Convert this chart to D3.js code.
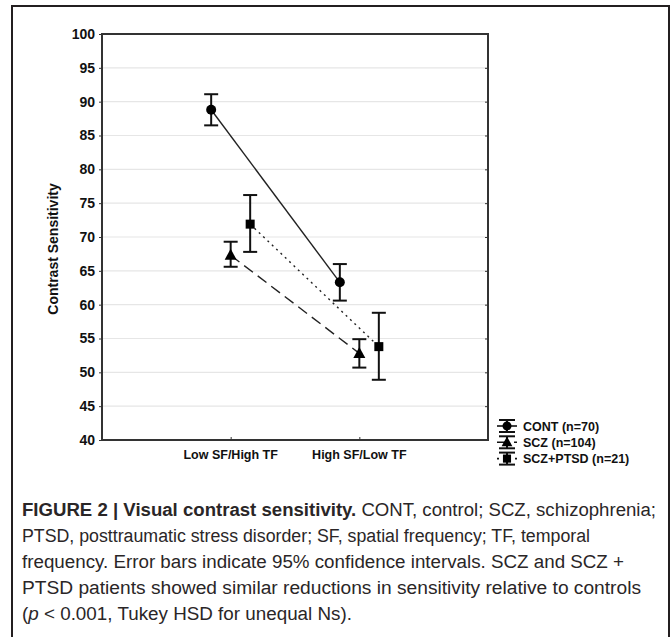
<!DOCTYPE html>
<html>
<head>
<meta charset="utf-8">
<script src="https://cdn.jsdelivr.net/npm/d3@7"></script>
<style>
  body { margin: 0; background: #fff; }
  svg { display: block; }
</style>
</head>
<body>
<svg id="chart"></svg>
<script>
// data
var categories = ["Low SF/High TF", "High SF/Low TF"];
var groups = ["CONT (n=70)", "SCZ (n=104)", "SCZ+PTSD (n=21)"];
var contMean = [88.8, 63.3], contLow = [86.5, 60.6], contHigh = [91.1, 66.0];
var sczMean = [67.3, 52.8], sczLow = [65.6, 50.7], sczHigh = [69.3, 54.9];
var ptsdMean = [71.9, 53.8], ptsdLow = [67.8, 48.9], ptsdHigh = [76.2, 58.8];
var yTicks = [40, 45, 50, 55, 60, 65, 70, 75, 80, 85, 90, 95, 100];
var caption = [
  [["b", "FIGURE 2 | Visual contrast sensitivity."], ["", " CONT, control; SCZ, schizophrenia;"]],
  [["", "PTSD, posttraumatic stress disorder; SF, spatial frequency; TF, temporal"]],
  [["", "frequency. Error bars indicate 95% confidence intervals. SCZ and SCZ +"]],
  [["", "PTSD patients showed similar reductions in sensitivity relative to controls"]],
  [["", "("], ["i", "p"], ["", " < 0.001, Tukey HSD for unequal Ns)."]]
];
// rendered width of each caption line (the original uses a condensed face)
var captionWidths = [634, 568, 602, 619, 330];

var W = 671, H = 637;
var margin = {top: 34, left: 102};
var width = 386, height = 406;
var font = "Liberation Sans, Arial, sans-serif";

var series = [
  {name: groups[0], mean: contMean, lo: contLow, hi: contHigh, shift: -19.5, dash: null, shape: "circle"},
  {name: groups[1], mean: sczMean, lo: sczLow, hi: sczHigh, shift: 0, dash: "11,6", shape: "triangle"},
  {name: groups[2], mean: ptsdMean, lo: ptsdLow, hi: ptsdHigh, shift: 19.5, dash: "2,4", shape: "square"}
];

var svg = d3.select("#chart").attr("width", W).attr("height", H);

// outer frame
svg.append("rect")
  .attr("x", 12).attr("y", 6)
  .attr("width", 657).attr("height", 645)
  .attr("fill", "none").attr("stroke", "#231f20").attr("stroke-width", 2);

var g = svg.append("g")
  .attr("transform", "translate(" + margin.left + "," + margin.top + ")");

var x = d3.scalePoint().domain(categories).range([0, width]).padding(1);
var y = d3.scaleLinear().domain([40, 100]).range([height, 0]);

// grid
g.append("g").selectAll("line")
  .data(yTicks.filter(function (d) { return d > 40 && d < 100; }))
  .enter().append("line")
    .attr("x1", 0).attr("x2", width)
    .attr("y1", function (d) { return y(d); })
    .attr("y2", function (d) { return y(d); })
    .attr("stroke", "#e6e6e6").attr("stroke-width", 1.2);

// axes
var yAxis = g.append("g")
  .call(d3.axisLeft(y).tickValues(yTicks).tickSize(3).tickPadding(4));
yAxis.select(".domain").remove();
yAxis.selectAll(".tick line").attr("stroke", "#333");
yAxis.selectAll(".tick text")
  .attr("font-family", font)
  .attr("font-size", 14).attr("font-weight", "bold").attr("fill", "#111");

var yRight = g.append("g")
  .attr("transform", "translate(" + width + ",0)")
  .call(d3.axisLeft(y).tickValues(yTicks).tickSize(3).tickFormat(""));
yRight.select(".domain").remove();
yRight.selectAll(".tick line").attr("stroke", "#333");

var xAxis = g.append("g")
  .attr("transform", "translate(0," + height + ")")
  .call(d3.axisTop(x).tickSize(3).tickFormat(""));
xAxis.select(".domain").remove();
xAxis.selectAll(".tick line").attr("stroke", "#333");

g.append("g").selectAll("text")
  .data(categories)
  .enter().append("text")
    .attr("x", function (d) { return x(d); })
    .attr("y", height + 19)
    .attr("text-anchor", "middle")
    .attr("font-family", font)
    .attr("font-size", 12.5).attr("font-weight", "bold").attr("fill", "#111")
    .text(function (d) { return d; });

g.append("rect")
  .attr("width", width).attr("height", height)
  .attr("fill", "none").attr("stroke", "#333").attr("stroke-width", 2);

svg.append("text")
  .attr("transform", "translate(58,249) rotate(-90)")
  .attr("text-anchor", "middle")
  .attr("font-family", font)
  .attr("font-size", 14).attr("font-weight", "bold").attr("fill", "#111")
  .text("Contrast Sensitivity");

function marker(sel, shape) {
  if (shape === "circle") {
    sel.append("circle").attr("r", 5).attr("fill", "#000");
  } else if (shape === "triangle") {
    sel.append("path").attr("d", "M0,-6.5L6,4.5L-6,4.5Z").attr("fill", "#000");
  } else {
    sel.append("rect").attr("x", -4.5).attr("y", -4.5).attr("width", 9).attr("height", 9).attr("fill", "#000");
  }
}

var line = d3.line()
  .x(function (d) { return d[0]; })
  .y(function (d) { return d[1]; });

series.forEach(function (s) {
  var pts = categories.map(function (c, i) { return [x(c) + s.shift, y(s.mean[i])]; });
  g.append("path")
    .attr("d", line(pts))
    .attr("fill", "none").attr("stroke", "#222").attr("stroke-width", 1.4)
    .attr("stroke-dasharray", s.dash);

  categories.forEach(function (c, i) {
    var cx = x(c) + s.shift;
    var eb = g.append("g").attr("stroke", "#111").attr("stroke-width", 2);
    eb.append("line").attr("x1", cx).attr("x2", cx).attr("y1", y(s.lo[i])).attr("y2", y(s.hi[i]));
    eb.append("line").attr("x1", cx - 7).attr("x2", cx + 7).attr("y1", y(s.lo[i])).attr("y2", y(s.lo[i]));
    eb.append("line").attr("x1", cx - 7).attr("x2", cx + 7).attr("y1", y(s.hi[i])).attr("y2", y(s.hi[i]));
    var m = g.append("g").attr("transform", "translate(" + cx + "," + y(s.mean[i]) + ")");
    marker(m, s.shape);
  });
});

// legend
var legend = svg.append("g").attr("transform", "translate(497,426)");
series.forEach(function (s, i) {
  var row = legend.append("g").attr("transform", "translate(0," + (i * 16.3) + ")");
  row.append("line").attr("x1", 0).attr("x2", 20).attr("y1", 0).attr("y2", 0)
    .attr("stroke", "#111").attr("stroke-width", 1.6).attr("stroke-dasharray", s.dash);
  row.append("line").attr("x1", 10).attr("x2", 10).attr("y1", -6).attr("y2", 6)
    .attr("stroke", "#111").attr("stroke-width", 2);
  row.append("line").attr("x1", 2).attr("x2", 18).attr("y1", -6).attr("y2", -6)
    .attr("stroke", "#111").attr("stroke-width", 2);
  row.append("line").attr("x1", 2).attr("x2", 18).attr("y1", 6).attr("y2", 6)
    .attr("stroke", "#111").attr("stroke-width", 2);
  var m = row.append("g").attr("transform", "translate(10,0) scale(0.9)");
  marker(m, s.shape);
  row.append("text")
    .attr("x", 26).attr("y", 4.5)
    .attr("font-family", font)
    .attr("font-size", 12.5).attr("font-weight", "bold").attr("fill", "#111")
    .text(s.name);
});

// caption
var cap = svg.append("g");
caption.forEach(function (parts, i) {
  var t = cap.append("text")
    .attr("x", 22).attr("y", 516 + i * 26)
    .attr("font-family", font)
    .attr("font-size", 18).attr("fill", "#2a2627")
    .attr("textLength", captionWidths[i])
    .attr("lengthAdjust", "spacingAndGlyphs");
  parts.forEach(function (p) {
    var sp = t.append("tspan").text(p[1]);
    if (p[0] === "b") sp.attr("font-weight", "bold");
    if (p[0] === "i") sp.attr("font-style", "italic");
  });
});
</script>
</body>
</html>
